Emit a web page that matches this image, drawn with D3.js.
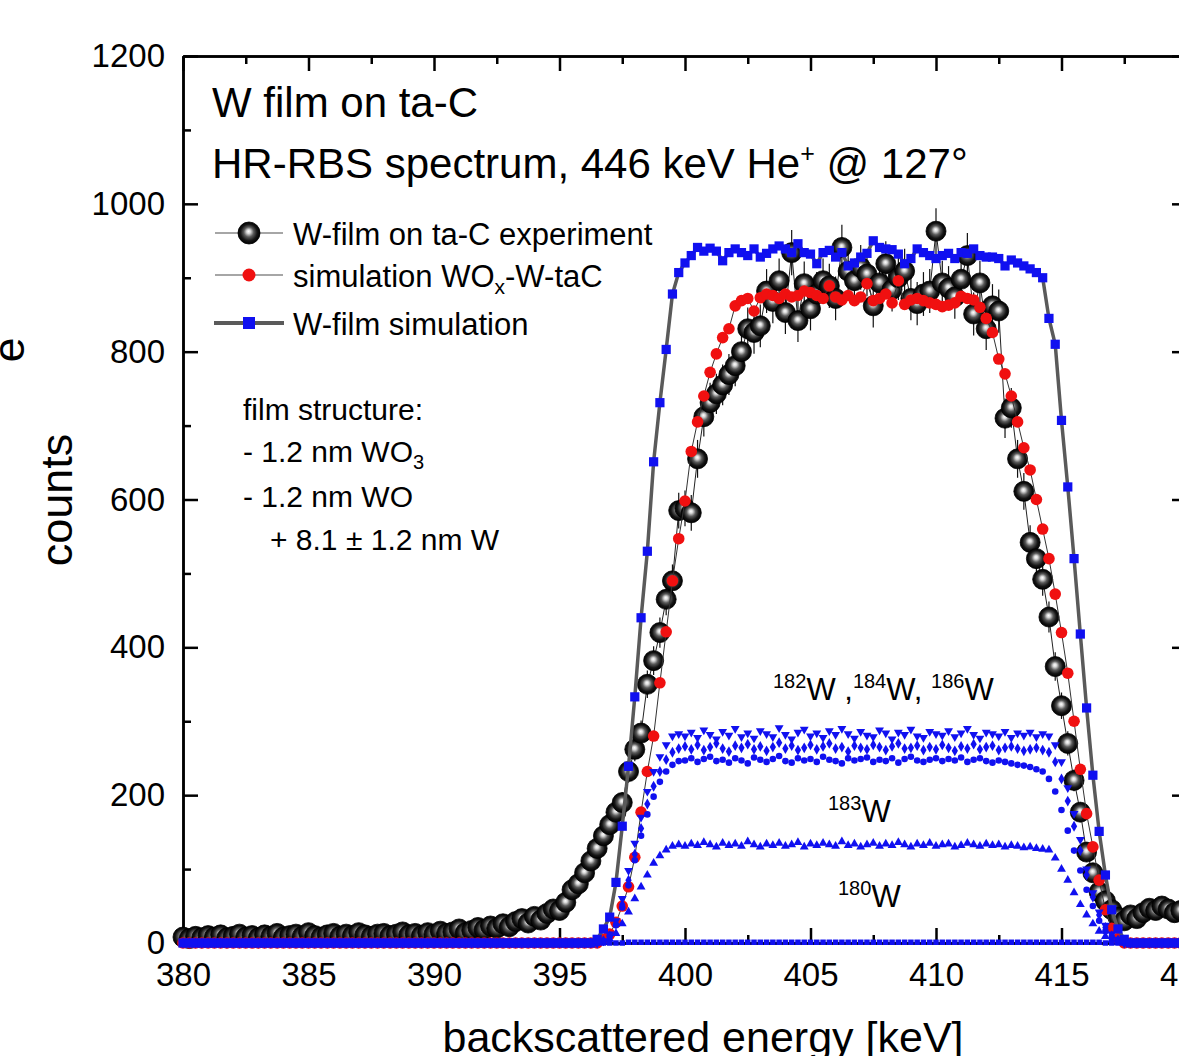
<!DOCTYPE html>
<html>
<head>
<meta charset="utf-8">
<script src="https://cdn.jsdelivr.net/npm/d3@7/dist/d3.min.js"></script>
<style>
html, body { margin: 0; padding: 0; background: #fff; overflow: hidden; }
svg { display: block; font-family: "Liberation Sans", Arial, Helvetica, sans-serif; }
</style>
</head>
<body>
<svg id="chart" width="1179" height="1056"></svg>
<script>
// Channel energies [keV]
const energy = [
  380.00,380.25,380.50,380.75, 381.00,381.25,381.50,381.75, 382.00,382.25,382.50,382.75,
  383.00,383.25,383.50,383.75, 384.00,384.25,384.50,384.75, 385.00,385.25,385.50,385.75,
  386.00,386.25,386.50,386.75, 387.00,387.25,387.50,387.75, 388.00,388.25,388.50,388.75,
  389.00,389.25,389.50,389.75, 390.00,390.25,390.50,390.75, 391.00,391.25,391.50,391.75,
  392.00,392.25,392.50,392.75, 393.00,393.25,393.50,393.75, 394.00,394.25,394.50,394.75,
  395.00,395.25,395.50,395.75, 396.00,396.25,396.50,396.75, 397.00,397.25,397.50,397.75,
  398.00,398.25,398.50,398.75, 399.00,399.25,399.50,399.75, 400.00,400.25,400.50,400.75,
  401.00,401.25,401.50,401.75, 402.00,402.25,402.50,402.75, 403.00,403.25,403.50,403.75,
  404.00,404.25,404.50,404.75, 405.00,405.25,405.50,405.75, 406.00,406.25,406.50,406.75,
  407.00,407.25,407.50,407.75, 408.00,408.25,408.50,408.75, 409.00,409.25,409.50,409.75,
  410.00,410.25,410.50,410.75, 411.00,411.25,411.50,411.75, 412.00,412.25,412.50,412.75,
  413.00,413.25,413.50,413.75, 414.00,414.25,414.50,414.75, 415.00,415.25,415.50,415.75,
  416.00,416.25,416.50,416.75, 417.00,417.25,417.50,417.75, 418.00,418.25,418.50,418.75,
  419.00,419.25,419.50,419.75
];

// Measured spectrum: W-film on ta-C
const experiment = [
  8,6,9,7, 10,8,11,7, 9,12,8,10, 7,11,9,13, 8,10,12,9,
  14,10,8,11, 13,9,12,10, 14,11,9,12, 13,10,12,15, 11,13,10,14,
  12,16,13,15, 19,14,17,21, 18,23,20,26, 22,29,33,27, 36,31,40,46,
  44,55,72,80, 95,111,128,145, 160,177,190,232, 262,284,350,382, 420,465,490,585,
  588,582,655,712, 731,743,755,769, 781,800,831,826, 835,882,868,896, 853,934,842,892,
  858,878,896,889, 872,941,909,896, 914,905,862,893, 919,884,900,909, 872,865,878,882,
  963,893,886,874, 898,930,851,893, 831,862,855,710, 724,655,611,542, 520,492,441,374,
  321,270,220,177, 123,95,69,57, 45,35,30,38, 33,41,47,44, 50,46,41,44
];

// Simulation with oxide layers (WOx-W-taC)
const simWOx = [
  0,0,0,0, 0,0,0,0, 0,0,0,0, 0,0,0,0, 0,0,0,0,
  0,0,0,0, 0,0,0,0, 0,0,0,0, 0,0,0,0, 0,0,0,0,
  0,0,0,0, 0,0,0,0, 0,0,0,0, 0,0,0,0, 0,0,0,0,
  0,0,0,0, 0,0,0,5, 12,28,50,76, 116,177,232,280, 352,421,490,547,
  598,665,705,740, 772,797,819,831, 862,869,872,855, 873,878,876,872, 878,874,876,882,
  880,876,872,889, 874,870,876,869, 874,892,869,872, 878,866,896,864, 870,872,869,866,
  864,861,863,866, 875,872,870,860, 845,826,790,770, 740,705,670,640, 600,560,520,472,
  420,365,300,235, 175,130,85,45, 20,6,0,0, 0,0,0,0, 0,0,0,0
];

// Simulation of a pure W film
const simWfilm = [
  0,0,0,0, 0,0,0,0, 0,0,0,0, 0,0,0,0, 0,0,0,0,
  0,0,0,0, 0,0,0,0, 0,0,0,0, 0,0,0,0, 0,0,0,0,
  0,0,0,0, 0,0,0,0, 0,0,0,0, 0,0,0,0, 0,0,0,0,
  0,0,0,0, 0,0,5,19, 35,82,158,239, 333,440,530,651, 731,803,878,907,
  920,930,941,936, 940,936,923,934, 939,934,930,939, 928,933,939,943, 939,934,946,934,
  932,919,934,937, 928,934,916,920, 928,933,950,941, 939,938,932,919, 926,939,934,930,
  926,930,933,926, 934,933,939,930, 928,928,926,916, 924,920,916,912, 907,900,845,810,
  707,617,520,418, 318,227,151,92, 45,19,5,0, 0,0,0,0, 0,0,0,0
];

// Isotope contributions of the W-film simulation
const w184 = [
  0,0,0,0, 0,0,0,0, 0,0,0,0, 0,0,0,0, 0,0,0,0,
  0,0,0,0, 0,0,0,0, 0,0,0,0, 0,0,0,0, 0,0,0,0,
  0,0,0,0, 0,0,0,0, 0,0,0,0, 0,0,0,0, 0,0,0,0,
  0,0,0,0, 0,0,0,3, 12,30,60,98, 135,170,205,232, 252,268,280,283,
  280,285,278,288, 282,276,286,281, 290,279,284,277, 287,283,279,291, 282,276,285,289,
  280,284,278,287, 282,290,283,277, 286,281,279,288, 284,276,285,282, 289,280,278,286,
  283,281,287,279, 284,290,282,277, 285,283,280,286, 278,284,281,285, 279,283,280,268,
  245,210,175,140, 100,68,42,24, 12,5,0,0, 0,0,0,0, 0,0,0,0
];
const w186 = [
  0,0,0,0, 0,0,0,0, 0,0,0,0, 0,0,0,0, 0,0,0,0,
  0,0,0,0, 0,0,0,0, 0,0,0,0, 0,0,0,0, 0,0,0,0,
  0,0,0,0, 0,0,0,0, 0,0,0,0, 0,0,0,0, 0,0,0,0,
  0,0,0,0, 0,0,0,3, 10,26,52,85, 120,155,188,212, 232,248,258,263,
  266,262,268,261, 265,270,263,259, 267,264,269,262, 266,260,265,271, 263,267,261,264,
  268,262,266,270, 263,265,259,267, 264,262,268,265, 261,266,270,263, 264,267,261,265,
  262,268,264,260, 266,263,269,262, 265,267,261,264, 266,263,260,262, 264,261,258,245,
  222,192,158,125, 92,62,38,21, 10,4,0,0, 0,0,0,0, 0,0,0,0
];
const w182 = [
  0,0,0,0, 0,0,0,0, 0,0,0,0, 0,0,0,0, 0,0,0,0,
  0,0,0,0, 0,0,0,0, 0,0,0,0, 0,0,0,0, 0,0,0,0,
  0,0,0,0, 0,0,0,0, 0,0,0,0, 0,0,0,0, 0,0,0,0,
  0,0,0,0, 0,0,0,2, 9,24,48,78, 112,145,174,198, 218,232,241,246,
  247,250,245,249, 252,246,248,244, 250,247,243,251, 248,245,249,253, 246,244,250,247,
  249,245,252,248, 246,243,250,247, 249,251,245,248, 246,250,244,249, 252,247,245,248,
  250,246,249,247, 251,245,248,250, 246,244,247,245, 243,241,240,238, 235,232,222,205,
  180,152,125,98, 72,50,30,16, 7,2,0,0, 0,0,0,0, 0,0,0,0
];
const w183 = [
  0,0,0,0, 0,0,0,0, 0,0,0,0, 0,0,0,0, 0,0,0,0,
  0,0,0,0, 0,0,0,0, 0,0,0,0, 0,0,0,0, 0,0,0,0,
  0,0,0,0, 0,0,0,0, 0,0,0,0, 0,0,0,0, 0,0,0,0,
  0,0,0,0, 0,0,0,1, 5,13,26,42, 60,76,92,108, 118,126,131,133,
  131,134,132,136, 133,130,135,132, 134,131,137,133, 130,134,132,135, 131,133,136,130,
  134,132,135,133, 131,137,132,134, 130,133,135,131, 134,132,136,133, 130,134,132,135,
  131,133,134,130, 132,135,133,131, 134,132,133,130, 132,131,129,130, 128,127,126,115,
  100,85,68,52, 38,26,16,9, 4,1,0,0, 0,0,0,0, 0,0,0,0
];
const w180 = [
  0,0,0,0, 0,0,0,0, 0,0,0,0, 0,0,0,0, 0,0,0,0,
  0,0,0,0, 0,0,0,0, 0,0,0,0, 0,0,0,0, 0,0,0,0,
  0,0,0,0, 0,0,0,0, 0,0,0,0, 0,0,0,0, 0,0,0,0,
  0,0,0,0, 0,0,0,0, 0,0,0,1, 1,1,1,1, 1,1,1,1,
  1,1,1,1, 1,1,1,1, 1,1,1,1, 1,1,1,1, 1,1,1,1,
  1,1,1,1, 1,1,1,1, 1,1,1,1, 1,1,1,1, 1,1,1,1,
  1,1,1,1, 1,1,1,1, 1,1,1,1, 1,1,1,1, 1,1,1,1,
  1,1,1,1, 1,1,1,0, 0,0,0,0, 0,0,0,0, 0,0,0,0
];

const xMajor = [380, 385, 390, 395, 400, 405, 410, 415, 420];
const xMinor = [382.5, 387.5, 392.5, 397.5, 402.5, 407.5, 412.5, 417.5];
const yMajor = [0, 200, 400, 600, 800, 1000, 1200];
const yMinor = [100, 300, 500, 700, 900, 1100];

const FONT = '"Liberation Sans", Arial, Helvetica, sans-serif';
const BLUE = '#1010f0';
const RED = '#f01010';

const svg = d3.select('#chart');
const x = d3.scaleLinear().domain([380, 420]).range([183, 1187]);
const y = d3.scaleLinear().domain([0, 1200]).range([943, 56]);
const X0 = 183, X1 = 1187, Y0 = 943, Y1 = 56;

// glossy ball gradient for the measured points
const defs = svg.append('defs');
const grad = defs.append('radialGradient').attr('id', 'ball')
  .attr('cx', '50%').attr('cy', '50%').attr('r', '50%').attr('fx', '48%').attr('fy', '42%');
[[0, '#ffffff'], [0.18, '#d8d8d8'], [0.45, '#5a5a5a'], [0.75, '#151515'], [1, '#000000']]
  .forEach(([o, c]) => grad.append('stop').attr('offset', o).attr('stop-color', c));

// ---- axes (ticks point inward on all four sides)
function styleAxis(g, withText) {
  g.attr('font-family', FONT).attr('font-size', 33);
  g.selectAll('path.domain').attr('stroke', '#000').attr('stroke-width', 2.5);
  g.selectAll('.tick line').attr('stroke', '#000').attr('stroke-width', 2.5);
  g.selectAll('.tick text').attr('fill', '#000');
  if (!withText) g.selectAll('.tick text').remove();
}
const ax = svg.append('g').attr('class', 'axes');

ax.append('g').attr('transform', `translate(0,${Y0})`)
  .call(d3.axisBottom(x).tickValues(xMajor).tickFormat(d3.format('d'))
    .tickSizeInner(-15).tickSizeOuter(0).tickPadding(20))
  .call(g => styleAxis(g, true));
ax.append('g').attr('transform', `translate(0,${Y0})`)
  .call(d3.axisBottom(x).tickValues(xMinor).tickSizeInner(-8).tickSizeOuter(0))
  .call(g => styleAxis(g, false));
ax.append('g').attr('transform', `translate(0,${Y1})`)
  .call(d3.axisTop(x).tickValues(xMajor).tickSizeInner(-15).tickSizeOuter(0))
  .call(g => styleAxis(g, false));
ax.append('g').attr('transform', `translate(0,${Y1})`)
  .call(d3.axisTop(x).tickValues(xMinor).tickSizeInner(-8).tickSizeOuter(0))
  .call(g => styleAxis(g, false));

ax.append('g').attr('transform', `translate(${X0},0)`)
  .call(d3.axisLeft(y).tickValues(yMajor).tickFormat(d3.format('d'))
    .tickSizeInner(-15).tickSizeOuter(0).tickPadding(18))
  .call(g => styleAxis(g, true));
ax.append('g').attr('transform', `translate(${X0},0)`)
  .call(d3.axisLeft(y).tickValues(yMinor).tickSizeInner(-8).tickSizeOuter(0))
  .call(g => styleAxis(g, false));
ax.append('g').attr('transform', `translate(${X1},0)`)
  .call(d3.axisRight(y).tickValues(yMajor).tickSizeInner(-15).tickSizeOuter(0))
  .call(g => styleAxis(g, false));
ax.append('g').attr('transform', `translate(${X1},0)`)
  .call(d3.axisRight(y).tickValues(yMinor).tickSizeInner(-8).tickSizeOuter(0))
  .call(g => styleAxis(g, false));

// ---- data
const pts = arr => energy.map((e, i) => ({ e, v: arr[i] }));
const line = d3.line().x(d => x(d.e)).y(d => y(d.v));
const plot = svg.append('g').attr('class', 'plot');

// measured spectrum: connecting line, error bars, glossy balls
const expPts = pts(experiment);
plot.append('path').datum(expPts).attr('d', line)
  .attr('fill', 'none').attr('stroke', '#222').attr('stroke-width', 1);
plot.append('g').selectAll('line').data(expPts).join('line')
  .attr('x1', d => x(d.e)).attr('x2', d => x(d.e))
  .attr('y1', d => y(d.v - Math.sqrt(d.v))).attr('y2', d => y(d.v + Math.sqrt(d.v)))
  .attr('stroke', '#111').attr('stroke-width', 1.2);
plot.append('g').selectAll('circle').data(expPts).join('circle')
  .attr('cx', d => x(d.e)).attr('cy', d => y(d.v)).attr('r', 10)
  .attr('fill', 'url(#ball)').attr('stroke', '#000').attr('stroke-width', 0.8);

// oxide simulation: thin line with red dots
const woxPts = pts(simWOx);
plot.append('path').datum(woxPts).attr('d', line)
  .attr('fill', 'none').attr('stroke', '#333').attr('stroke-width', 1);
plot.append('g').selectAll('circle').data(woxPts).join('circle')
  .attr('cx', d => x(d.e)).attr('cy', d => y(d.v)).attr('r', 5.8)
  .attr('fill', RED);

// isotope partial spectra
const isotopes = [
  { values: w180, type: d3.symbolSquare, size: 30, rot: 0 },
  { values: w183, type: d3.symbolTriangle, size: 34, rot: 0 },
  { values: w182, type: d3.symbolCircle, size: 34, rot: 0 },
  { values: w186, type: d3.symbolDiamond, size: 34, rot: 0 },
  { values: w184, type: d3.symbolTriangle, size: 34, rot: 180 }
];
isotopes.forEach(s => {
  const sym = d3.symbol().type(s.type).size(s.size)();
  plot.append('g').selectAll('path').data(pts(s.values)).join('path')
    .attr('d', sym)
    .attr('transform', d => `translate(${x(d.e)},${y(d.v)}) rotate(${s.rot})`)
    .attr('fill', BLUE);
});

// pure W-film simulation: thick grey line with blue squares
const wPts = pts(simWfilm);
plot.append('path').datum(wPts).attr('d', line)
  .attr('fill', 'none').attr('stroke', '#5a5a5a').attr('stroke-width', 3.5);
const sq = d3.symbol().type(d3.symbolSquare).size(85)();
plot.append('g').selectAll('path').data(wPts).join('path')
  .attr('d', sq).attr('transform', d => `translate(${x(d.e)},${y(d.v)})`)
  .attr('fill', BLUE);

// ---- text helpers
function rich(x0, y0, size, parts, anchor) {
  const t = svg.append('text').attr('x', x0).attr('y', y0)
    .attr('font-family', FONT).attr('font-size', size).attr('fill', '#000')
    .attr('text-anchor', anchor || 'start');
  parts.forEach(p => {
    const ts = t.append('tspan').text(p.t);
    if (p.s) ts.attr('font-size', p.s);
    if (p.dy) ts.attr('dy', p.dy);
  });
  return t;
}

// title block
rich(212, 117, 42, [{ t: 'W film on ta-C' }]);
rich(212, 178, 42, [
  { t: 'HR-RBS spectrum, 446 keV He' },
  { t: '+', s: 25, dy: -16 },
  { t: ' @ 127°', s: 42, dy: 16 }
]);

// legend
const lg = svg.append('g');
lg.append('line').attr('x1', 215).attr('x2', 283).attr('y1', 233).attr('y2', 233)
  .attr('stroke', '#888').attr('stroke-width', 1.5);
lg.append('circle').attr('cx', 249).attr('cy', 233).attr('r', 11)
  .attr('fill', 'url(#ball)').attr('stroke', '#000').attr('stroke-width', 0.8);
lg.append('line').attr('x1', 215).attr('x2', 283).attr('y1', 275).attr('y2', 275)
  .attr('stroke', '#888').attr('stroke-width', 1.5);
lg.append('circle').attr('cx', 249).attr('cy', 275).attr('r', 6.5).attr('fill', RED);
lg.append('line').attr('x1', 214).attr('x2', 284).attr('y1', 323).attr('y2', 323)
  .attr('stroke', '#5a5a5a').attr('stroke-width', 4);
lg.append('rect').attr('x', 243).attr('y', 317).attr('width', 12).attr('height', 12).attr('fill', BLUE);

rich(293, 245, 31, [{ t: 'W-film on ta-C experiment' }]);
rich(293, 287, 31, [
  { t: 'simulation WO' },
  { t: 'x', s: 21, dy: 7 },
  { t: '-W-taC', s: 31, dy: -7 }
]);
rich(293, 335, 31, [{ t: 'W-film simulation' }]);

// film structure annotation
rich(243, 420, 30, [{ t: 'film structure:' }]);
rich(243, 462, 30, [{ t: '- 1.2 nm WO' }, { t: '3', s: 20, dy: 7 }]);
rich(243, 507, 30, [{ t: '- 1.2 nm WO' }]);
rich(270, 550, 30, [{ t: '+ 8.1 ± 1.2 nm W' }]);

// isotope labels
rich(773, 700, 31, [
  { t: '182', s: 20, dy: -12 }, { t: 'W', s: 31, dy: 12 }, { t: ' ,' },
  { t: '184', s: 20, dy: -12 }, { t: 'W', s: 31, dy: 12 }, { t: ', ' },
  { t: '186', s: 20, dy: -12 }, { t: 'W', s: 31, dy: 12 }
]);
rich(828, 822, 31, [{ t: '183', s: 20, dy: -12 }, { t: 'W', s: 31, dy: 12 }]);
rich(838, 907, 31, [{ t: '180', s: 20, dy: -12 }, { t: 'W', s: 31, dy: 12 }]);

// axis titles
rich(703, 1052, 43, [{ t: 'backscattered energy [keV]' }], 'middle');
svg.append('text').attr('transform', 'translate(72,500) rotate(-90)')
  .attr('text-anchor', 'middle').attr('font-family', FONT).attr('font-size', 45)
  .text('counts');
svg.append('text').attr('transform', 'translate(24,350) rotate(-90)')
  .attr('text-anchor', 'middle').attr('font-family', FONT).attr('font-size', 45)
  .text('e');
</script>
</body>
</html>
